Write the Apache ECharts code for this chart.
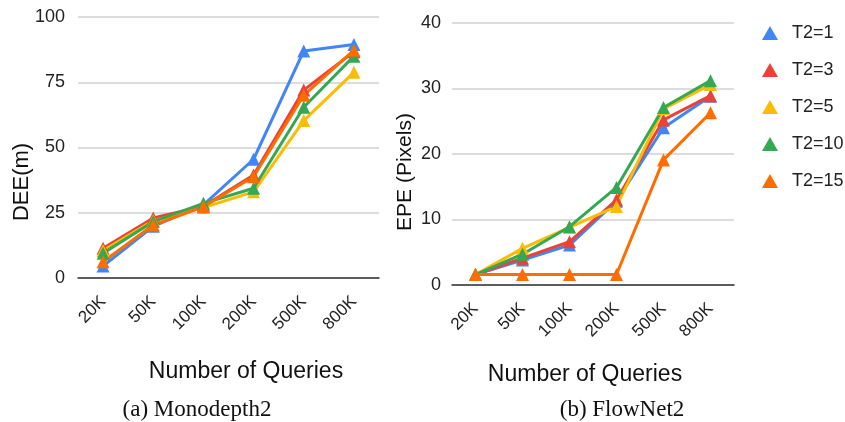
<!DOCTYPE html>
<html>
<head>
<meta charset="utf-8">
<script src="https://cdn.jsdelivr.net/npm/echarts@6/dist/echarts.min.js"></script>
<style>
  html, body { margin: 0; padding: 0; background: #fff; }
  #chart { width: 845px; height: 422px; }
</style>
</head>
<body>
<div id="chart"></div>
<script>
// Query budgets along the x axis
const queries = ['20K', '50K', '100K', '200K', '500K', '800K'];
const seriesNames = ['T2=1', 'T2=3', 'T2=5', 'T2=10', 'T2=15'];
const colors = ['#4285F4', '#EA4335', '#FBBC04', '#34A853', '#FF6D01'];

// (a) Monodepth2: depth estimation error (m)
const deeT1  = [4.6, 19.8, 28.0, 45.5, 87.0, 89.5];
const deeT3  = [11.4, 23.0, 27.5, 39.5, 72.0, 86.7];
const deeT5  = [10.5, 22.0, 27.0, 33.0, 60.3, 78.8];
const deeT10 = [9.5, 21.6, 28.6, 34.4, 65.4, 85.0];
const deeT15 = [6.2, 20.3, 27.3, 38.8, 70.0, 87.3];

// (b) FlowNet2: end-point error (pixels)
const epeT1  = [1.6, 3.8, 6.1, 12.8, 24.0, 28.8];
const epeT3  = [1.6, 4.1, 6.6, 13.0, 25.2, 28.9];
const epeT5  = [1.6, 5.6, 8.8, 12.0, 26.9, 30.6];
const epeT10 = [1.6, 4.7, 8.9, 14.9, 27.1, 31.2];
const epeT15 = [1.6, 1.6, 1.6, 1.6, 19.1, 26.3];

const deeTicks = [0, 25, 50, 75, 100];
const epeTicks = [0, 10, 20, 30, 40];

const deeData = [deeT1, deeT3, deeT5, deeT10, deeT15];
const epeData = [epeT1, epeT3, epeT5, epeT10, epeT15];

const sans = 'Liberation Sans, Arial, sans-serif';
const serif = 'Liberation Serif, Times New Roman, serif';

function xAxis(gridIndex) {
  return {
    type: 'category',
    gridIndex: gridIndex,
    data: queries,
    boundaryGap: true,
    axisLine: { show: true, lineStyle: { color: '#333', width: 1.5 } },
    axisTick: { show: false },
    axisLabel: { rotate: 45, fontSize: 17, color: '#222', fontFamily: sans, margin: 21 }
  };
}

function yAxis(gridIndex, ticks, margin) {
  return {
    type: 'value',
    gridIndex: gridIndex,
    min: ticks[0],
    max: ticks[ticks.length - 1],
    interval: ticks[1] - ticks[0],
    axisLine: { show: false },
    axisTick: { show: false },
    splitLine: { show: true, lineStyle: { color: '#d0d0d0', width: 1.5 } },
    axisLabel: { fontSize: 18, color: '#222', fontFamily: sans, margin: margin }
  };
}

function makeSeries(data, axisIndex) {
  return data.map((vals, i) => ({
    name: seriesNames[i],
    type: 'line',
    xAxisIndex: axisIndex,
    yAxisIndex: axisIndex,
    data: vals,
    symbol: 'triangle',
    symbolSize: 13,
    showAllSymbol: true,
    lineStyle: { color: colors[i], width: 3 },
    itemStyle: { color: colors[i] },
    emphasis: { disabled: true },
    animation: false
  }));
}

// Centered text helper for axis titles and captions
function label(text, x, y, font, rotation) {
  return {
    type: 'text',
    x: x,
    y: y,
    rotation: rotation || 0,
    style: { text: text, font: font, fill: '#111', textAlign: 'center', textVerticalAlign: 'middle' }
  };
}

const chart = echarts.init(document.getElementById('chart'));
chart.setOption({
  animation: false,
  color: colors,
  grid: [
    { left: 78, top: 17, width: 301, height: 261 },
    { left: 452, top: 23, width: 282, height: 262 }
  ],
  xAxis: [xAxis(0), xAxis(1)],
  yAxis: [yAxis(0, deeTicks, 13), yAxis(1, epeTicks, 11)],
  legend: {
    orient: 'vertical',
    left: 762,
    top: 24,
    padding: 0,
    icon: 'triangle',
    itemWidth: 16,
    itemHeight: 14,
    itemGap: 19,
    data: seriesNames,
    textStyle: { fontSize: 18, color: '#222', fontFamily: sans, padding: [0, 0, 0, 9] },
    selectedMode: false
  },
  graphic: [
    label('DEE(m)', 22, 182, '22px ' + sans, Math.PI / 2),
    label('EPE (Pixels)', 405, 172, '21px ' + sans, Math.PI / 2),
    label('Number of Queries', 246, 372, '23px ' + sans),
    label('Number of Queries', 585, 375, '23px ' + sans),
    label('(a) Monodepth2', 197, 410, '23px ' + serif),
    label('(b) FlowNet2', 622, 410, '23px ' + serif)
  ],
  series: makeSeries(deeData, 0).concat(makeSeries(epeData, 1))
});
</script>
</body>
</html>
